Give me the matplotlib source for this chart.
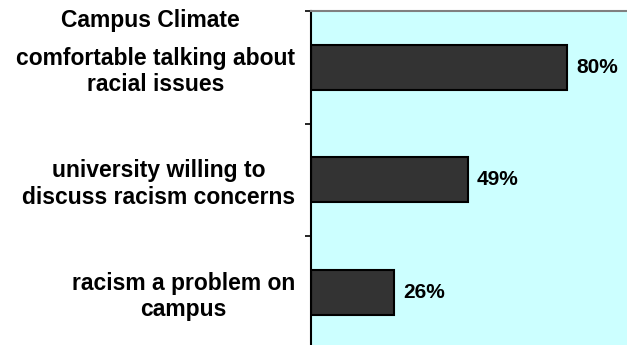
import matplotlib
matplotlib.use("Agg")
import matplotlib.pyplot as plt
import numpy as np

title = "Campus Climate"
categories = ["comfortable talking about\nracial issues",
              "university willing to\ndiscuss racism concerns",
              "racism a problem on\ncampus"]
values = [80, 49, 26]
value_labels = ["80%", "49%", "26%"]

plt.rcParams['font.family'] = ['Liberation Sans', 'DejaVu Sans']

W, H = 627, 345
fig = plt.figure(figsize=(W / 100, H / 100), dpi=100)
left_px, right_px, top_px, bottom_px = 311, 631, 11, 348.5
ax = fig.add_axes([left_px / W, 1 - bottom_px / H,
                   (right_px - left_px) / W, (bottom_px - top_px) / H])
ax.set_facecolor("#CCFFFF")

y = np.arange(len(categories))
ax.barh(y, values, height=0.4, color="#333333", edgecolor="black", linewidth=1.5)
ax.set_xlim(0, 100)
ax.set_ylim(len(categories) - 0.5, -0.5)

for yi, v, lab in zip(y, values, value_labels):
    ax.annotate(lab, (v, yi), xytext=(6.5, 0), textcoords="offset points",
                ha="left", va="center", fontsize=15, fontweight="bold")

ax.set_yticks(y)
ax.set_yticklabels(categories, fontsize=16.5, fontweight="bold")
for t in ax.get_yticklabels():
    t.set_multialignment("center")
ax.tick_params(axis="y", which="major", length=0, pad=11.5)
ax.set_yticks(np.arange(-0.5, len(categories) + 0.5, 1), minor=True)
ax.tick_params(axis="y", which="minor", length=4.3, width=1.2, direction="out", color="black")
ax.set_xticks([])

ax.spines["left"].set_color("black")
ax.spines["left"].set_linewidth(1.5)
ax.spines["top"].set_color("#808080")
ax.spines["top"].set_linewidth(1.5)
ax.spines["right"].set_visible(False)
ax.spines["bottom"].set_visible(False)

fig.text(150 / W, 1 - 27 / H, title, ha="center", va="baseline",
         fontsize=16.5, fontweight="bold")

fig.savefig("out.png", dpi=100)
